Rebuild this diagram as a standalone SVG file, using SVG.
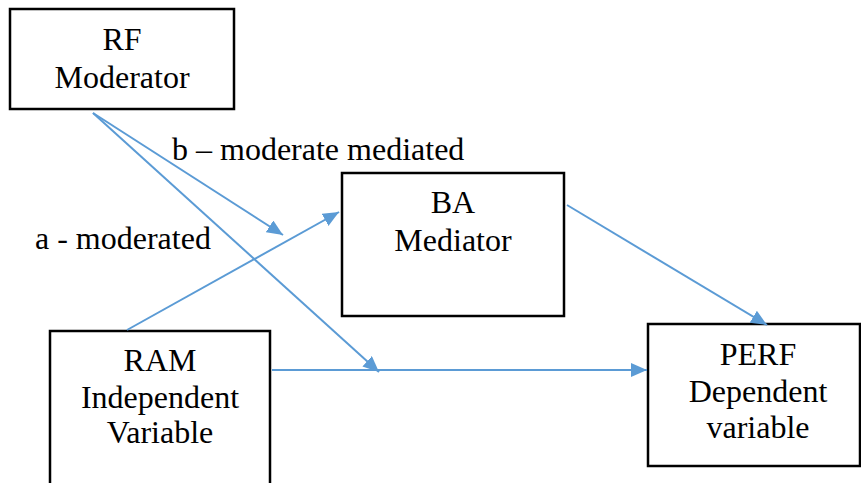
<svg xmlns="http://www.w3.org/2000/svg" width="861" height="483" viewBox="0 0 861 483">
<style>
.box{fill:#fff;stroke:#000;stroke-width:2.5}
.t{font-family:"Liberation Serif","Times New Roman","DejaVu Serif",serif;font-size:32px;fill:#000}
.c{text-anchor:middle}
.ln{stroke:#5B9BD5;stroke-width:2;fill:none;marker-end:url(#ah)}
</style>
<defs>
<marker id="ah" markerUnits="userSpaceOnUse" markerWidth="17" markerHeight="15" refX="16" refY="7" orient="auto">
<path d="M0,0 L16,7 L0,14 Z" fill="#5B9BD5"/>
</marker>
</defs>
<rect width="861" height="483" fill="#fff"/>
<g id="rf">
<rect class="box" x="10" y="9" width="224" height="100"/>
<text class="t c" x="122" y="50">RF</text>
<text class="t c" x="122" y="88">Moderator</text>
</g>
<g id="ba">
<rect class="box" x="342" y="173" width="222" height="143"/>
<text class="t c" x="453" y="213">BA</text>
<text class="t c" x="453" y="251">Mediator</text>
</g>
<g id="ram">
<rect class="box" x="50" y="331" width="220" height="160"/>
<text class="t c" x="160" y="371">RAM</text>
<text class="t c" x="160" y="408">Independent</text>
<text class="t c" x="160" y="443">Variable</text>
</g>
<g id="perf">
<rect class="box" x="648" y="324" width="212" height="142"/>
<text class="t c" x="758" y="365">PERF</text>
<text class="t c" x="758" y="402">Dependent</text>
<text class="t c" x="758" y="438">variable</text>
</g>
<g id="labels">
<text class="t" x="172" y="160">b – moderate mediated</text>
<text class="t" x="35" y="249">a - moderated</text>
</g>
<g id="connectors">
<line class="ln" x1="93" y1="113" x2="283" y2="235"/>
<line class="ln" x1="93" y1="113" x2="379" y2="372"/>
<line class="ln" x1="127" y1="330" x2="339" y2="212"/>
<line class="ln" x1="272" y1="370" x2="647" y2="370"/>
<line class="ln" x1="567" y1="205" x2="767" y2="325"/>
</g>
</svg>
